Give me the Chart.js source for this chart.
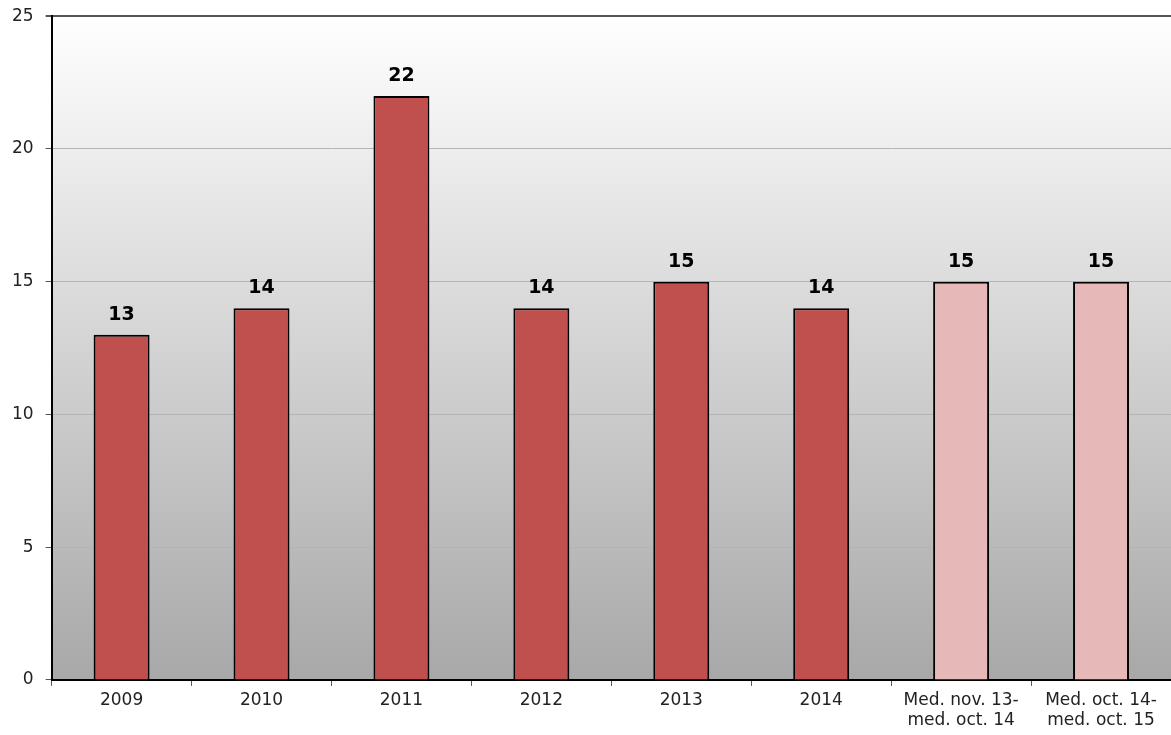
<!DOCTYPE html>
<html lang="es">
<head>
<meta charset="UTF-8" />
<title>Chart</title>
<script src="https://cdn.jsdelivr.net/npm/chart.js"></script>
<style>
  body { margin: 0; padding: 0; background: #fff; }
  #wrap { width: 1171px; height: 735px; }
</style>
</head>
<body>
<div id="wrap"><canvas id="barChart"></canvas></div>
<script>
const categories = ["2009", "2010", "2011", "2012", "2013", "2014", ["Med. nov. 13-", "med. oct. 14"], ["Med. oct. 14-", "med. oct. 15"]];
const values = [13, 14, 22, 14, 15, 14, 15, 15];
const barColors = ["#C0504D", "#C0504D", "#C0504D", "#C0504D", "#C0504D", "#C0504D", "#E6B9B8", "#E6B9B8"];
const yTicks = [0, 5, 10, 15, 20, 25];

// gray gradient behind the plot area
const bgPlugin = {
  id: "bg",
  beforeDraw(chart) {
    const { ctx, chartArea: a } = chart;
    const g = ctx.createLinearGradient(0, a.top, 0, a.bottom);
    g.addColorStop(0, "#ffffff");
    g.addColorStop(1, "#a8a8a8");
    ctx.save();
    ctx.fillStyle = g;
    ctx.fillRect(a.left, a.top, a.right - a.left, a.bottom - a.top);
    ctx.restore();
  }
};

// bold value labels above bars
const labelPlugin = {
  id: "vals",
  afterDatasetsDraw(chart) {
    const ctx = chart.ctx;
    const meta = chart.getDatasetMeta(0);
    ctx.save();
    ctx.font = "bold 19px 'DejaVu Sans'";
    ctx.fillStyle = "#000";
    ctx.textAlign = "center";
    ctx.textBaseline = "alphabetic";
    meta.data.forEach((bar, i) => {
      ctx.fillText(values[i], bar.x, bar.y - 15);
    });
    ctx.restore();
  }
};

new Chart(document.getElementById("barChart"), {
  type: "bar",
  data: {
    labels: categories,
    datasets: [{
      data: values,
      backgroundColor: barColors,
      borderColor: "#000",
      borderWidth: 2,
      barPercentage: 0.4,
      categoryPercentage: 1
    }]
  },
  options: {
    responsive: true,
    maintainAspectRatio: false,
    animation: false,
    layout: { padding: { top: 15, right: 0, left: 0, bottom: 0 } },
    plugins: { legend: { display: false }, tooltip: { enabled: false } },
    scales: {
      x: {
        grid: { display: true, offset: true, drawOnChartArea: false, color: "#555", tickLength: 6 },
        border: { color: "#000", width: 2 },
        ticks: { color: "#222", font: { family: "DejaVu Sans", size: 17, lineHeight: 1.15 }, maxRotation: 0, autoSkip: false, padding: 5 }
      },
      y: {
        min: 0,
        max: 25,
        afterBuildTicks(axis) { axis.ticks = yTicks.map(v => ({ value: v })); },
        grid: {
          color: ctx => ctx.tick && ctx.tick.value === 25 ? "#555" : "#b4b4b4",
          lineWidth: ctx => ctx.tick && ctx.tick.value === 25 ? 2 : 1,
          tickLength: 6,
          tickColor: "#555"
        },
        border: { color: "#000", width: 2 },
        ticks: { color: "#222", font: { family: "DejaVu Sans", size: 17, lineHeight: 0.5 }, padding: 12 }
      }
    }
  },
  plugins: [bgPlugin, labelPlugin]
});
</script>
</body>
</html>
